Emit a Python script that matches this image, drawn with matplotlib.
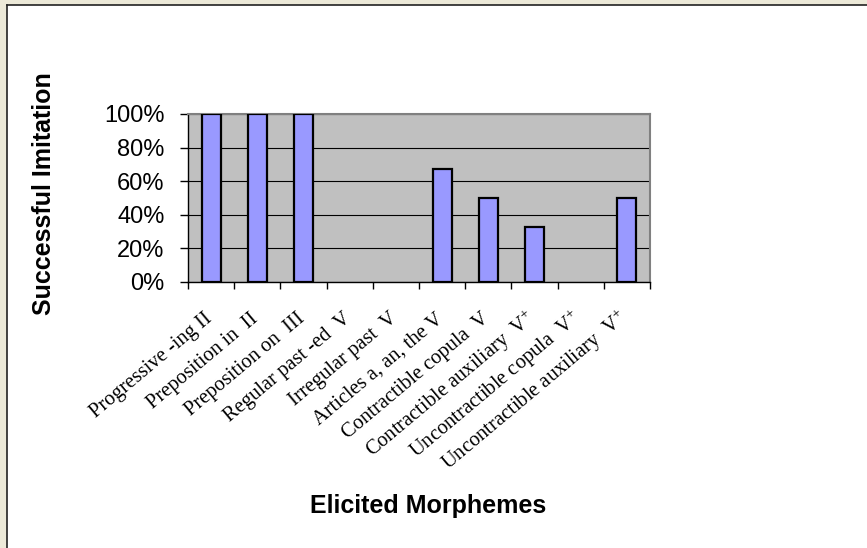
import matplotlib
matplotlib.use('Agg')
import matplotlib.pyplot as plt
from matplotlib.patches import Rectangle
from matplotlib.lines import Line2D
import numpy as np

categories = ['Progressive -ing II', 'Preposition in  II', 'Preposition on  III',
              'Regular past -ed  V', 'Irregular past  V', 'Articles a, an, the V',
              'Contractible copula  V', 'Contractible auxiliary  V$^{+}$',
              'Uncontractible copula  V$^{+}$', 'Uncontractible auxiliary  V$^{+}$']
values = [100, 100, 100, 0, 0, 67, 50, 33, 0, 50]
yticks = [0, 20, 40, 60, 80, 100]

plt.rcParams['mathtext.fontset'] = 'custom'
plt.rcParams['mathtext.rm'] = 'Liberation Serif'
plt.rcParams['mathtext.it'] = 'Liberation Serif:italic'

W, H = 867, 548
fig = plt.figure(figsize=(W / 100, H / 100), dpi=100)
fig.patch.set_facecolor('#ECE9D8')
# white chart panel with dark edge on top and left
fig.add_artist(Rectangle((7 / W, 0), 1, 1 - 5 / H, transform=fig.transFigure,
                         facecolor='white', edgecolor='none', zorder=0))
fig.add_artist(Line2D([7 / W, 1], [1 - 5 / H, 1 - 5 / H], transform=fig.transFigure,
                      color='#222222', lw=1.2))
fig.add_artist(Line2D([7 / W, 7 / W], [0, 1 - 5 / H], transform=fig.transFigure,
                      color='#222222', lw=1.2))

ax = fig.add_axes([188 / W, 1 - 282 / H, (650 - 188) / W, (282 - 114) / H])
ax.set_facecolor('#C0C0C0')

x = np.arange(len(categories))
# empty categories get no outline
lws = [1.6 if v > 0 else 0 for v in values]
ax.bar(x, values, width=0.41, color='#9999FF', edgecolor='black', linewidth=lws, zorder=3)

ax.set_xlim(-0.5, len(categories) - 0.5)
ax.set_ylim(0, 100)
ax.set_yticks(yticks)
ax.set_yticklabels([f'{v}%' for v in yticks], fontsize=17, family='Liberation Sans')
ax.yaxis.grid(True, color='black', lw=0.8, zorder=1)
ax.tick_params(axis='y', direction='out', length=6, width=1, pad=11)

ax.set_xticks(np.arange(len(categories) + 1) - 0.5)
ax.set_xticklabels([])
ax.tick_params(axis='x', direction='out', length=5, width=1)
for i, lab in enumerate(categories):
    ax.annotate(lab, xy=(i, 0), xycoords=('data', 'axes fraction'),
                xytext=(1.1, -27.4), textcoords='offset points',
                rotation=40, ha='right', va='baseline', rotation_mode='anchor',
                fontsize=14.8, family='Liberation Serif')

for s in ['top', 'right']:
    ax.spines[s].set_color('#808080')
    ax.spines[s].set_linewidth(1.5)
for s in ['left', 'bottom']:
    ax.spines[s].set_color('black')
    ax.spines[s].set_linewidth(1)

fig.text(44 / W, 1 - 194 / H, 'Successful Imitation', rotation=90, ha='center', va='center',
         fontsize=18, fontweight='bold', family='Liberation Sans')
fig.text(428 / W, 1 - 506 / H, 'Elicited Morphemes', ha='center', va='center',
         fontsize=18, fontweight='bold', family='Liberation Sans')

fig.savefig('out.png', dpi=100, facecolor=fig.get_facecolor())
